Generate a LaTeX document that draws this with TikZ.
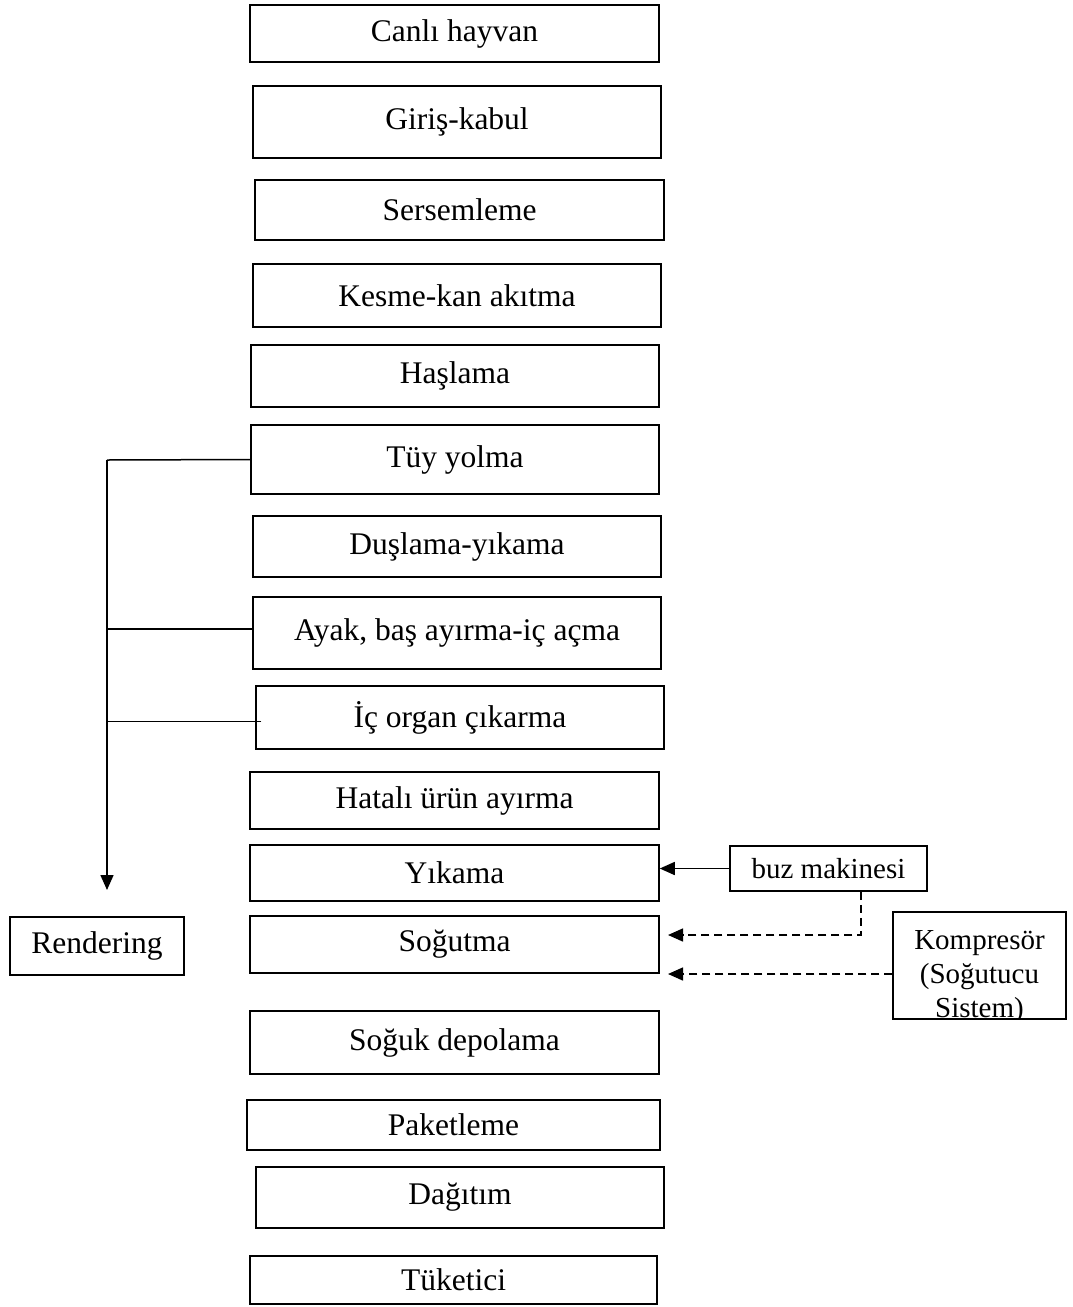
\documentclass[tikz,border=0pt]{standalone}
\usepackage{fontspec}
\setmainfont{Liberation Serif}
\usetikzlibrary{arrows.meta}
\begin{document}
\begin{tikzpicture}[x=1pt,y=-1pt,
  stepbox/.style={draw, line width=1.5pt, inner sep=0pt, font=\fontsize{31.5pt}{36pt}\selectfont},
  sidebox/.style={draw, line width=1.5pt, inner sep=0pt, font=\fontsize{29pt}{34pt}\selectfont},
  conn/.style={line width=1.5pt, -{Triangle[length=15pt,width=13pt]}},
  plain/.style={line width=1.5pt},
  dashconn/.style={line width=1.5pt, dash pattern=on 8pt off 5pt, -{Triangle[length=15pt,width=13pt]}}]
\useasboundingbox (0,0) rectangle (1072,1307);
\fill[white] (0,0) rectangle (1072,1307);
\node[stepbox, minimum width=409, minimum height=57] (canli) at (454.5,33.5) {Canlı hayvan};
\node[stepbox, minimum width=408, minimum height=72] (giris) at (457,122) {Giriş-kabul};
\node[stepbox, minimum width=409, minimum height=60] (sers) at (459.5,210) {Sersemleme};
\node[stepbox, minimum width=408, minimum height=63] (kesme) at (457,295.5) {Kesme-kan akıtma};
\node[stepbox, minimum width=408, minimum height=62] (hasl) at (455,376) {Haşlama};
\node[stepbox, minimum width=408, minimum height=69] (tuy) at (455,459.5) {Tüy yolma};
\node[stepbox, minimum width=408, minimum height=61] (dusl) at (457,546.5) {Duşlama-yıkama};
\node[stepbox, minimum width=408, minimum height=72] (ayak) at (457,633) {Ayak, baş ayırma-iç açma};
\node[stepbox, minimum width=408, minimum height=63] (ic) at (460,717.5) {İç organ çıkarma};
\node[stepbox, minimum width=409, minimum height=57] (hatali) at (454.5,800.5) {Hatalı ürün ayırma};
\node[stepbox, minimum width=409, minimum height=56] (yikama) at (454.5,873) {Yıkama};
\node[stepbox, minimum width=409, minimum height=57] (sogutma) at (454.5,944.5) {Soğutma};
\node[stepbox, minimum width=409, minimum height=63] (sogdep) at (454.5,1042.5) {Soğuk depolama};
\node[stepbox, minimum width=413, minimum height=50] (paket) at (453.5,1125) {Paketleme};
\node[stepbox, minimum width=408, minimum height=61] (dagitim) at (460,1197.5) {Dağıtım};
\node[stepbox, minimum width=407, minimum height=48] (tuketici) at (453.5,1280) {Tüketici};
\node[stepbox, minimum width=174, minimum height=58] (rend) at (97,946) {Rendering};
\node[sidebox, minimum width=197, minimum height=45] (buz) at (828.5,868.5) {buz makinesi};
\node[sidebox, minimum width=173, minimum height=107,
  path picture={\node[align=center, font=\fontsize{29pt}{34pt}\selectfont, yshift=-12pt] at (path picture bounding box.center) {Kompresör\\(Soğutucu\\Sistem)};}] (komp) at (979.5,965.5) {};
% rendering collector
\coordinate (rtip) at (107,890);
\coordinate (rtop) at (107,460);
\draw[plain] (tuy.west) -- (rtop);
\draw[conn] (rtop) -- (rtip);
\draw[plain] ([yshift=4pt]ayak.west) -- ([yshift=4pt]ayak.west -| rtip);
\draw[plain] ([xshift=6pt,yshift=-4pt]ic.west) -- ([yshift=-4pt]ic.west -| rtip);
% right side
\draw[conn] (buz.west) -- (buz.west -| yikama.east);
\coordinate (d1) at (668,935);
\coordinate (d2) at (668,974);
\draw[dashconn] ([xshift=32.5pt]buz.south) |- (d1);
\draw[dashconn] ([yshift=-8.5pt]komp.west) -- (d2);
\end{tikzpicture}
\end{document}
